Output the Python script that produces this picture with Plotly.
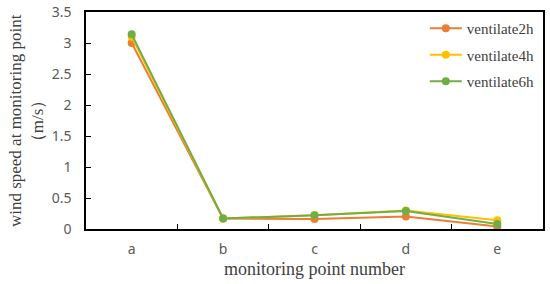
import plotly.graph_objects as go

points = ['a', 'b', 'c', 'd', 'e']
v2h = [3.00, 0.17, 0.16, 0.20, 0.04]
v4h = [3.10, 0.17, 0.22, 0.30, 0.14]
v6h = [3.14, 0.17, 0.22, 0.29, 0.08]

series = [('ventilate2h', v2h, '#ED7D31'),
          ('ventilate4h', v4h, '#FFC000'),
          ('ventilate6h', v6h, '#70AD47')]

fig = go.Figure()
for name, vals, col in series:
    fig.add_trace(go.Scatter(x=points, y=vals, name=name, mode='lines+markers',
                             legendgroup=name,
                             line=dict(color=col, width=2),
                             marker=dict(color=col, size=8)))

serif = 'Liberation Serif, Times New Roman, serif'
sans = 'Noto Sans, DejaVu Sans, sans-serif'
fig.update_layout(
    width=550, height=284,
    margin=dict(l=86, r=7, t=12, b=55),
    plot_bgcolor='white', paper_bgcolor='white',
    legend=dict(x=0.993, y=1.0, xanchor='right', yanchor='top',
                font=dict(family=serif, size=15, color='#404040'),
                bgcolor='rgba(0,0,0,0)', itemwidth=32, tracegroupgap=4),
)
fig.update_xaxes(range=[-0.5, 4.5], showline=True, linecolor='black', linewidth=1.5,
                 mirror=True, ticks='inside', ticklen=5, tickcolor='black',
                 tickson='boundaries', showgrid=False, automargin=False,
                 ticklabelstandoff=6,
                 tickfont=dict(family=sans, size=14, color='#595959'))
fig.update_yaxes(range=[0, 3.5], dtick=0.5, showline=True, linecolor='black',
                 linewidth=1.5, mirror=True, ticks='inside', ticklen=5,
                 tickcolor='black', showgrid=False, zeroline=False,
                 tickformat='~g', automargin=False, ticklabelstandoff=10,
                 tickfont=dict(family=sans, size=14, color='#595959'))

fig.add_annotation(text='monitoring point number', xref='paper', yref='paper',
                   x=0.5, y=-0.184, xanchor='center', yanchor='middle', showarrow=False,
                   font=dict(family=serif, size=18, color='#404040'))
fig.add_annotation(text='wind speed at monitoring point<br>（m/s）', xref='paper', yref='paper',
                   x=-0.13, y=0.5, xanchor='center', yanchor='middle', showarrow=False,
                   textangle=-90,
                   font=dict(family=serif, size=17, color='#404040'))

fig.write_html("out.html", config={'displayModeBar': False},
               post_script="document.body.style.margin='0';")
